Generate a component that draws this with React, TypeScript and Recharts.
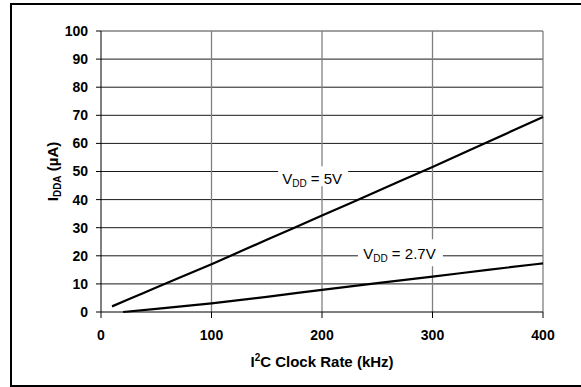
import React from 'react';
import {
  LineChart,
  Line,
  XAxis,
  YAxis,
  CartesianGrid,
  ReferenceLine,
  ReferenceDot,
  Label,
} from 'recharts';

// I2C clock rate (kHz) vs supply current (uA)
const freq5V = [10, 25, 50, 100, 150, 200, 250, 300, 350, 400];
const idda5V = [2.0, 4.5, 8.7, 17.0, 25.7, 34.3, 43.0, 51.6, 60.5, 69.4];

const freq27V = [20, 50, 100, 150, 200, 250, 300, 350, 400];
const idda27V = [0, 1.1, 3.1, 5.4, 7.9, 10.3, 12.6, 15.0, 17.3];

const xTicks = [0, 100, 200, 300, 400];
const yTicks = [0, 10, 20, 30, 40, 50, 60, 70, 80, 90, 100];

const FONT = '"Liberation Sans", Arial, sans-serif';

const data5V = freq5V.map((f, i) => ({ f, v: idda5V[i] }));
const data27V = freq27V.map((f, i) => ({ f, v: idda27V[i] }));

type TagProps = { cx?: number; cy?: number };

// white box + "VDD = x" annotation, centred on the dot
const vddTag = (value: string, w: number, h: number, base: number) =>
  function Tag({ cx = 0, cy = 0 }: TagProps) {
    return (
      <g>
        <rect x={cx - w / 2} y={cy - h / 2} width={w} height={h} fill="#fff" />
        <text
          x={cx - 1}
          y={cy + base}
          textAnchor="middle"
          fontFamily={FONT}
          fontSize={15}
          fill="#000"
        >
          V
          <tspan fontSize={10} dy={3}>DD</tspan>
          <tspan dy={-3}>{` = ${value}`}</tspan>
        </text>
      </g>
    );
  };

const App = () => {
  const tick = { fontFamily: FONT, fontSize: 14, fontWeight: 'bold', fill: '#000' };

  return (
    <div
      style={{
        position: 'absolute',
        left: 0,
        top: 0,
        width: 581,
        height: 387,
        overflow: 'hidden',
        background: '#fff',
      }}
    >
      <div
        style={{
          position: 'absolute',
          left: 10,
          top: 3,
          width: 590,
          height: 380,
          border: '2px solid #000',
        }}
      />
      <LineChart
        width={581}
        height={387}
        margin={{ top: 31, right: 38, bottom: 45, left: 41 }}
        style={{ position: 'absolute', left: 0, top: 0 }}
      >
        <CartesianGrid
          vertical={false}
          horizontalValues={yTicks.slice(1, -1)}
          stroke="#1a1a1a"
        />
        <CartesianGrid
          horizontal={false}
          verticalValues={xTicks.slice(1)}
          stroke="#808080"
          strokeWidth={1.3}
        />
        <ReferenceLine y={100} stroke="#808080" strokeWidth={1.3} />
        <XAxis
          type="number"
          dataKey="f"
          domain={[0, 400]}
          ticks={xTicks}
          allowDuplicatedCategory={false}
          height={30}
          tick={tick}
          tickSize={6}
          tickMargin={12}
          axisLine={{ stroke: '#000' }}
          tickLine={{ stroke: '#000' }}
        >
          <Label
            content={({ viewBox }: any) => (
              <text
                x={viewBox.x + viewBox.width / 2}
                y={viewBox.y + 55}
                textAnchor="middle"
                fontFamily={FONT}
                fontSize={15}
                fontWeight="bold"
                fill="#000"
              >
                I
                <tspan fontSize={10} dy={-6}>2</tspan>
                <tspan dy={6}>C Clock Rate (kHz)</tspan>
              </text>
            )}
          />
        </XAxis>
        <YAxis
          type="number"
          domain={[0, 100]}
          ticks={yTicks}
          width={60}
          tick={tick}
          tickSize={5}
          tickMargin={8}
          axisLine={{ stroke: '#000' }}
          tickLine={{ stroke: '#000' }}
        >
          <Label
            content={({ viewBox }: any) => {
              const x = viewBox.x + 17;
              const y = viewBox.y + viewBox.height / 2;
              return (
                <text
                  x={x}
                  y={y}
                  transform={`rotate(-90, ${x}, ${y})`}
                  textAnchor="middle"
                  fontFamily={FONT}
                  fontSize={15}
                  fontWeight="bold"
                  fill="#000"
                >
                  I
                  <tspan fontSize={10} dy={3}>DDA</tspan>
                  <tspan dy={-3}> (µA)</tspan>
                </text>
              );
            }}
          />
        </YAxis>
        <Line
          data={data5V}
          dataKey="v"
          type="monotone"
          stroke="#000"
          strokeWidth={2.2}
          dot={false}
          isAnimationActive={false}
        />
        <Line
          data={data27V}
          dataKey="v"
          type="monotone"
          stroke="#000"
          strokeWidth={2.2}
          dot={false}
          isAnimationActive={false}
        />
        <ReferenceDot x={192} y={48.3} r={0} shape={vddTag('5V', 70, 20, 8)} />
        <ReferenceDot x={271} y={21.1} r={0} shape={vddTag('2.7V', 85, 27, 6.5)} />
      </LineChart>
    </div>
  );
};

export default App;
